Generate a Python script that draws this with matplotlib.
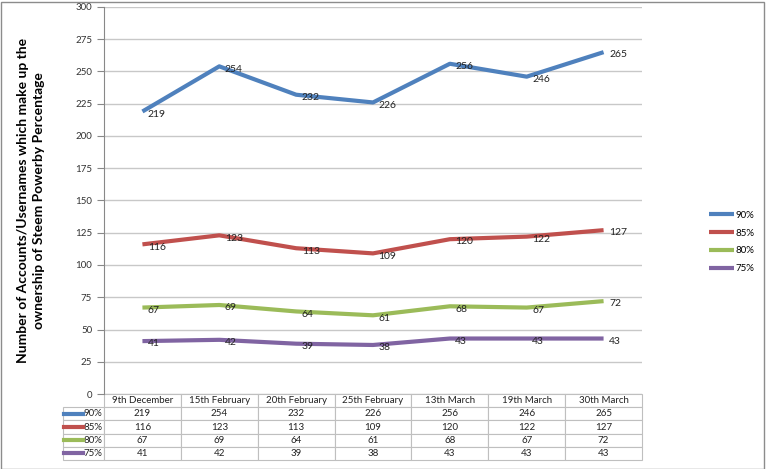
import matplotlib.pyplot as plt
from matplotlib.lines import Line2D
from matplotlib.patches import Rectangle

plt.rcParams['font.family'] = ['Lato', 'DejaVu Sans']

dates = ['9th December', '15th February', '20th February', '25th February',
         '13th March', '19th March', '30th March']
series_names = ['90%', '85%', '80%', '75%']
p90 = [219, 254, 232, 226, 256, 246, 265]
p85 = [116, 123, 113, 109, 120, 122, 127]
p80 = [67, 69, 64, 61, 68, 67, 72]
p75 = [41, 42, 39, 38, 43, 43, 43]
colors = ['#4F81BD', '#C0504D', '#9BBB59', '#8064A2']
yticks = list(range(0, 301, 25))

series = [p90, p85, p80, p75]

AW = 538  # plot width in px
fig = plt.figure(figsize=(7.68, 4.69), dpi=100)
ax = fig.add_axes([104/768, 1 - 394/469, AW/768, 387/469])

x = list(range(len(dates)))
handles = []
for vals, name, c in zip(series, series_names, colors):
    h, = ax.plot(x, vals, color=c, lw=3, solid_capstyle='butt', label=name)
    handles.append(h)
    for xi, v in zip(x, vals):
        ax.annotate(str(v), (xi, v), xytext=(4, -2), textcoords='offset points',
                    ha='left', va='center', fontsize=7.5, color='#222222')

ax.set_xlim(-0.5, len(dates) - 0.5)
ax.set_ylim(0, 300)
ax.set_yticks(yticks)
ax.set_xticks([])
ax.tick_params(axis='y', labelsize=7, colors='#888888', labelcolor='#333333',
               length=5, width=0.8, direction='out')
ax.grid(axis='y', color='#c8c8c8', lw=1)
ax.set_axisbelow(True)
for s in ['top', 'right', 'bottom']:
    ax.spines[s].set_visible(False)
ax.spines['left'].set_color('#888888')

ax.set_ylabel('Number of Accounts/Usernames which make up the\nownership of Steem Powerby Percentage',
              fontsize=10, fontweight='bold', labelpad=22, linespacing=1.35)

# data table under the plot (first column holds the series names)
label_w = 41
col_w = AW / len(dates)
x0 = -label_w / AW
tw = (AW + label_w) / AW
th = 66 / 387
rows = [[n] + [str(v) for v in s] for n, s in zip(series_names, series)]
tbl = ax.table(cellText=rows, colLabels=[''] + dates, cellLoc='center',
               bbox=[x0, -th, tw, th])
tbl.auto_set_font_size(False)
tbl.set_fontsize(7)
for (r, c), cell in tbl.get_celld().items():
    cell.set_edgecolor('#bfbfbf')
    cell.set_linewidth(0.8)
    cell.get_text().set_color('#222222')
    cell.set_width(label_w if c == 0 else col_w)
    if c == 0:
        cell.PAD = 0.04
        cell.get_text().set_ha('right')
        cell._loc = 'right'
    if r == 0 and c == 0:
        cell.set_visible(False)

rh = th / 5
for k, c in enumerate(colors):
    yc = -rh * (k + 1.5)
    ax.add_line(Line2D([(64 - 104) / AW, (83 - 104) / AW], [yc, yc], color=c, lw=3,
                       transform=ax.transAxes, clip_on=False))

leg = fig.legend(handles=handles, loc='center left', bbox_to_anchor=(700/768, 1 - 242/469),
                 frameon=False, fontsize=7, handlelength=2.6, handletextpad=0.1,
                 labelspacing=0.9)

fig.add_artist(Rectangle((0.5/768, 0.5/469), 763/768, 1 - 2.5/469, transform=fig.transFigure,
                         fill=False, edgecolor='#8c8c8c', lw=1))

fig.savefig('out.png', dpi=100)
